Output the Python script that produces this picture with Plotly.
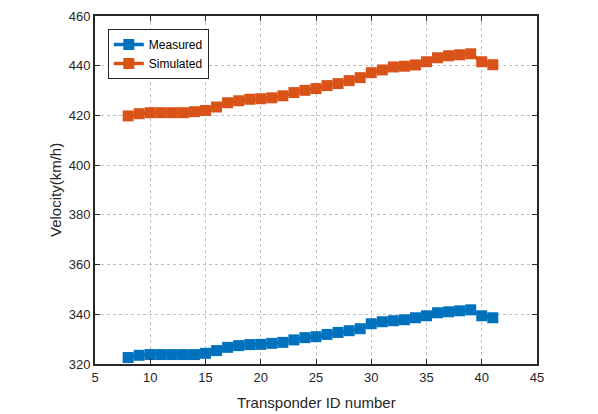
import plotly.graph_objects as go

transponder_id = list(range(8, 42))
measured = [322.6, 323.5, 323.8, 323.8, 323.8, 323.8, 323.8, 324.3, 325.4, 326.7,
            327.4, 327.8, 327.9, 328.3, 328.7, 329.7, 330.6, 331.0, 331.9, 332.7,
            333.4, 334.2, 336.2, 337.0, 337.4, 337.8, 338.6, 339.4, 340.6, 341.0,
            341.4, 341.8, 339.4, 338.6]
simulated = [419.8, 420.7, 421.1, 421.1, 421.1, 421.1, 421.5, 422.0, 423.4, 425.1,
             425.9, 426.5, 426.7, 427.1, 427.9, 429.2, 430.1, 430.8, 432.0, 432.8,
             434.0, 435.2, 437.2, 438.3, 439.5, 439.8, 440.3, 441.6, 443.2, 444.0,
             444.4, 444.8, 441.6, 440.4]
x_ticks = [5, 10, 15, 20, 25, 30, 35, 40, 45]
y_ticks = [320, 340, 360, 380, 400, 420, 440, 460]
x_title = "Transponder ID number"
y_title = "Velocity(km/h)"

FONT = "Arial, Liberation Sans, Helvetica, sans-serif"
TXT = "#262626"

fig = go.Figure()
fig.add_trace(go.Scatter(x=transponder_id, y=measured, name="Measured",
                         mode="lines+markers",
                         line=dict(color="#0072BD", width=3.5),
                         marker=dict(symbol="square", size=11, color="#0072BD")))
fig.add_trace(go.Scatter(x=transponder_id, y=simulated, name="Simulated",
                         mode="lines+markers",
                         line=dict(color="#D95319", width=3.5),
                         marker=dict(symbol="square", size=11, color="#D95319")))

axis_common = dict(showline=True, linecolor=TXT, linewidth=2, mirror="ticks",
                   ticks="inside", ticklen=5, tickwidth=1, tickcolor=TXT,
                   showgrid=True, gridcolor="#c0c0c0", griddash="dot", gridwidth=1,
                   zeroline=False, automargin=False,
                   tickfont=dict(family=FONT, size=13, color=TXT))

fig.update_xaxes(range=[5, 45], tickvals=x_ticks, **axis_common)
fig.update_yaxes(range=[320, 460], tickvals=y_ticks, **axis_common)

fig.add_annotation(text=x_title, xref="paper", yref="paper", x=0.5, y=0,
                   xanchor="center", yanchor="middle", yshift=-38, showarrow=False,
                   font=dict(family=FONT, size=15, color=TXT))
fig.add_annotation(text=y_title, xref="paper", yref="paper", x=0, y=0.5,
                   xanchor="center", yanchor="middle", xshift=-40, textangle=-90,
                   showarrow=False, font=dict(family=FONT, size=15, color=TXT))

fig.update_layout(width=598, height=414,
                  margin=dict(l=87, r=69, t=8, b=58),
                  paper_bgcolor="white", plot_bgcolor="white",
                  font=dict(family=FONT, size=13, color=TXT),
                  legend=dict(x=0.029, y=0.963, xanchor="left", yanchor="top",
                              bgcolor="white", bordercolor=TXT, borderwidth=1,
                              font=dict(family=FONT, size=12, color="black"),
                              tracegroupgap=0, itemwidth=30))

fig.write_html("out.html")
